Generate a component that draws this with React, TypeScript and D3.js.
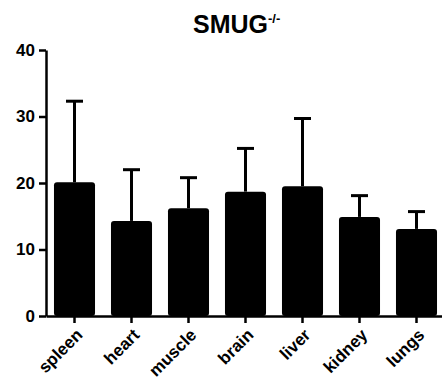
import React, { useEffect, useRef } from "react";
import * as d3 from "d3";

// tissues and mean / upper error values
const tissues = ["spleen", "heart", "muscle", "brain", "liver", "kidney", "lungs"];
const means = [20.1, 14.3, 16.2, 18.7, 19.5, 14.9, 13.1];
const errTops = [32.3, 22.0, 20.8, 25.2, 29.7, 18.1, 15.7];
const yTicks = [0, 10, 20, 30, 40];

const FONT = "'Liberation Sans', Arial, sans-serif";

const App: React.FC = () => {
  const svgRef = useRef<SVGSVGElement | null>(null);

  useEffect(() => {
    if (!svgRef.current) return;
    const svg = d3.select(svgRef.current);
    svg.selectAll("*").remove();

    const x = d3
      .scaleBand()
      .domain(tissues)
      .range([46, 445])
      .paddingInner(0.28)
      .paddingOuter(0.14);
    const y = d3.scaleLinear().domain([0, 40]).range([316, 50]);

    const rows = tissues.map((t, i) => ({ t, m: means[i], e: errTops[i] }));
    const cx = (t: string) => x(t)! + x.bandwidth() / 2;

    // error bars (upper only)
    const capW = 17;
    const eb = svg.append("g").attr("stroke", "#000").attr("stroke-width", 3);
    eb.selectAll(".stem")
      .data(rows)
      .join("line")
      .attr("x1", (d) => cx(d.t))
      .attr("x2", (d) => cx(d.t))
      .attr("y1", (d) => y(d.m))
      .attr("y2", (d) => y(d.e));
    eb.selectAll(".cap")
      .data(rows)
      .join("line")
      .attr("x1", (d) => cx(d.t) - capW / 2)
      .attr("x2", (d) => cx(d.t) + capW / 2)
      .attr("y1", (d) => y(d.e))
      .attr("y2", (d) => y(d.e));

    // bars
    svg
      .append("g")
      .selectAll("rect")
      .data(rows)
      .join("rect")
      .attr("x", (d) => x(d.t)!)
      .attr("y", (d) => y(d.m))
      .attr("width", x.bandwidth())
      .attr("height", (d) => y(0) - y(d.m))
      .attr("rx", 3)
      .attr("fill", "#000");

    // y axis
    const yAxis = svg
      .append("g")
      .attr("transform", "translate(46,0)")
      .call(d3.axisLeft(y).tickValues(yTicks).tickSize(7).tickPadding(4).tickSizeOuter(0));
    yAxis.select(".domain").attr("stroke-width", 2.5);
    yAxis.selectAll(".tick line").attr("stroke-width", 2.5);
    yAxis
      .selectAll(".tick text")
      .attr("font-family", FONT)
      .attr("font-weight", "bold")
      .attr("font-size", 17)
      .attr("fill", "#000");

    // x axis, labels drawn separately and rotated -45°
    const xAxis = svg
      .append("g")
      .attr("transform", `translate(0,${y(0)})`)
      .call(d3.axisBottom(x).tickSize(7).tickSizeOuter(0).tickFormat(() => ""));
    xAxis.select(".domain").attr("stroke-width", 2.5);
    xAxis.selectAll(".tick line").attr("stroke-width", 2.5);

    svg
      .append("g")
      .selectAll("text")
      .data(tissues)
      .join("text")
      .attr("transform", (d) => `translate(${cx(d) + 9},${y(0) + 20}) rotate(-45)`)
      .attr("text-anchor", "end")
      .attr("font-family", FONT)
      .attr("font-weight", "bold")
      .attr("font-size", 17)
      .attr("fill", "#000")
      .text((d) => d);

    // title
    const title = svg
      .append("text")
      .attr("x", 193)
      .attr("y", 33)
      .attr("font-family", FONT)
      .attr("font-weight", "bold")
      .attr("font-size", 25)
      .attr("fill", "#000");
    title.append("tspan").text("SMUG");
    title.append("tspan").attr("font-size", 13).attr("dy", -10).text("-/-");
  }, []);

  return (
    <div style={{ position: "fixed", left: 0, top: 0, width: 442, height: 391, background: "#fff" }}>
      <svg ref={svgRef} width={442} height={391} style={{ display: "block" }} />
    </div>
  );
};

export default App;
